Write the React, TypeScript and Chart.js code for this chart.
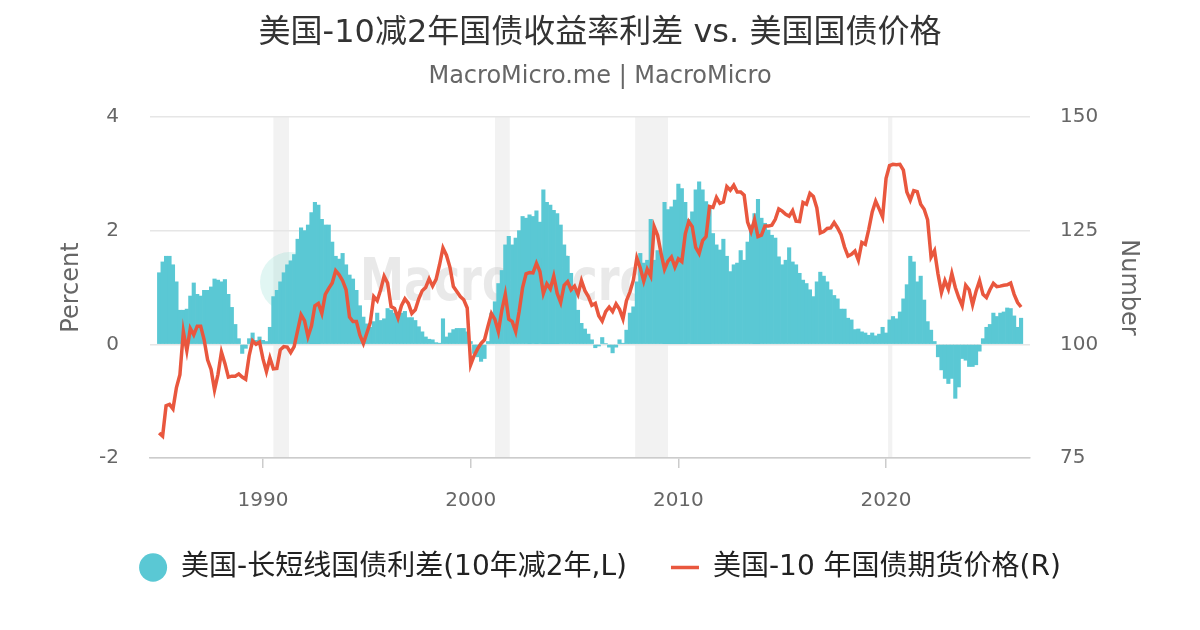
import React, { useEffect, useRef } from 'react';
import { Chart, registerables, Plugin } from 'chart.js';

Chart.register(...registerables);

Chart.defaults.font.family = '"DejaVu Sans", "Noto Sans CJK SC", sans-serif';

const TITLE = '美国-10减2年国债收益率利差 vs. 美国国债价格';
const SUBTITLE = 'MacroMicro.me | MacroMicro';
const SPREAD_LABEL = '美国-长短线国债利差(10年减2年,L)';
const PRICE_LABEL = '美国-10 年国债期货价格(R)';

// samples every two months starting Jan 1985
const START_YEAR = 1985;
const STEP = 1 / 6;

const X_MIN = 1984.56;
const X_MAX = 2026.93;
const yearTicks = [1990, 2000, 2010, 2020];

// US recessions (start, end) in decimal years
const recessions: [number, number][] = [
  [1990.5, 1991.25],
  [2001.17, 2001.88],
  [2007.92, 2009.5],
  [2020.1, 2020.3],
];

// 10y - 2y spread, percent
const spread = [
  1.26, 1.45, 1.55, 1.55, 1.4, 1.1, 0.6, 0.6, 0.62, 0.85,
  1.08, 0.88, 0.85, 0.95, 0.95, 1.01, 1.15, 1.13, 1.1, 1.14,
  0.88, 0.65, 0.35, 0.1, -0.16, -0.07, 0.1, 0.2, 0.07, 0.13,
  0.07, 0.05, 0.3, 0.84, 0.95, 1.1, 1.26, 1.4, 1.47, 1.58,
  1.85, 2.05, 2.0, 2.1, 2.32, 2.5, 2.45, 2.2, 2.1, 2.1,
  1.8, 1.55, 1.5, 1.6, 1.4, 1.22, 1.15, 0.95, 0.68, 0.48,
  0.36, 0.3, 0.4, 0.55, 0.42, 0.45, 0.63, 0.6, 0.55, 0.47,
  0.55, 0.58, 0.47, 0.47, 0.42, 0.31, 0.22, 0.13, 0.09, 0.08,
  0.03, 0.02, 0.45, 0.13, 0.2, 0.26, 0.28, 0.28, 0.28, 0.22,
  0.05, -0.16, -0.22, -0.3, -0.25, 0.05, 0.55, 0.75, 1.07, 1.3,
  1.75, 1.9, 1.75, 1.87, 2.0, 2.25, 2.22, 2.28, 2.25, 2.35,
  2.15, 2.72, 2.5, 2.45, 2.36, 2.3, 2.1, 1.75, 1.55, 1.25,
  0.95, 0.6, 0.37, 0.27, 0.18, 0.08, -0.06, -0.03, 0.12, 0.01,
  -0.05, -0.15, -0.05, 0.08, 0.02, 0.25, 0.55, 0.66, 1.1, 1.6,
  1.43, 1.48, 2.2, 1.48, 1.65, 1.6, 2.5, 2.37, 2.42, 2.54,
  2.82, 2.74, 2.5, 2.2, 2.33, 2.72, 2.86, 2.72, 2.51, 2.4,
  1.95, 1.75, 1.66, 1.85, 1.55, 1.28, 1.4, 1.43, 1.65, 1.48,
  1.8, 2.1, 2.3, 2.55, 2.22, 2.13, 2.01, 1.92, 1.87, 1.54,
  1.4, 1.48, 1.7, 1.45, 1.4, 1.25, 1.13, 1.07, 0.96, 0.84,
  1.1, 1.27, 1.2, 1.1, 0.96, 0.86, 0.8, 0.62, 0.62, 0.46,
  0.43, 0.26, 0.27, 0.22, 0.2, 0.16, 0.2, 0.15, 0.18, 0.3,
  0.2, 0.43, 0.49, 0.45, 0.57, 0.8, 1.05, 1.55, 1.45, 1.1,
  1.2, 0.78, 0.4, 0.25, 0.05, -0.22, -0.45, -0.6, -0.69, -0.6,
  -0.95, -0.75, -0.25, -0.28, -0.39, -0.39, -0.36, -0.12, 0.1, 0.3,
  0.35, 0.55, 0.49, 0.55, 0.57, 0.64, 0.63, 0.5, 0.3, 0.46,
];

// 10y treasury note futures price
const bondPrice = [
  80.5, 79.8, 86.5, 86.8, 85.8, 90.5, 93.3, 102.8, 98.6, 103.5,
  102.1, 104.0, 104.0, 101.0, 96.6, 94.5, 90.0, 93.4, 98.3, 95.8,
  92.8, 93.0, 93.0, 93.5, 92.8, 92.3, 97.5, 100.8, 100.0, 100.5,
  96.8, 94.0, 97.0, 94.6, 94.7, 98.8, 99.5, 99.4, 98.2, 99.5,
  103.0, 106.5, 105.2, 101.7, 104.0, 108.5, 109.0, 106.8, 111.0, 112.3,
  113.5, 116.2, 115.3, 114.0, 112.0, 106.0, 105.0, 105.0, 102.0, 100.2,
  102.5, 104.8, 110.5, 109.6, 112.0, 115.0, 113.5, 108.3, 107.9, 105.8,
  108.5, 110.0, 109.0, 106.8, 107.6, 110.0, 111.8, 112.5, 114.4, 112.8,
  114.3, 117.5, 121.2, 119.6, 117.0, 112.7, 111.6, 110.5, 109.8, 108.0,
  95.5, 97.5, 99.0, 100.2, 101.0, 104.0, 106.8, 105.5, 102.8, 107.5,
  111.0, 105.5, 105.0, 102.8, 107.2, 112.5, 115.5, 115.8, 115.7, 117.8,
  116.0, 111.2, 113.3, 112.2, 115.0, 111.2, 109.2, 113.0, 113.8, 112.0,
  112.8, 111.0, 114.0, 111.8, 110.5, 108.6, 109.0, 106.3, 105.1, 107.2,
  108.2, 107.2, 108.9, 107.7, 105.6, 109.6, 111.5, 114.1, 119.0, 116.8,
  113.9, 116.5, 115.0, 125.9, 124.0, 120.0, 116.5, 118.3, 119.2, 117.0,
  118.8, 118.2, 124.3, 127.0, 125.9, 121.3, 120.0, 122.8, 123.7, 130.3,
  130.1, 132.3, 131.0, 131.3, 134.7, 133.9, 135.0, 133.5, 133.5, 132.8,
  126.9, 124.8, 127.4, 123.7, 124.0, 126.0, 126.0, 126.2, 127.5, 129.8,
  129.3, 128.6, 128.2, 129.4, 127.1, 127.0, 131.2, 130.8, 133.2, 132.5,
  130.0, 124.5, 124.8, 125.5, 125.6, 126.8, 125.6, 124.1, 121.4, 119.4,
  119.8, 120.5, 118.5, 122.4, 122.0, 125.3, 129.1, 131.5, 129.8, 128.0,
  136.5, 139.3, 139.6, 139.5, 139.6, 138.3, 133.5, 131.7, 133.8, 133.6,
  130.8, 129.7, 127.4, 119.2, 120.6, 115.5, 111.4, 114.0, 112.1, 115.6,
  112.5, 110.3, 108.5, 113.0, 112.0, 108.7, 111.7, 114.0, 111.0, 110.3,
  112.0, 113.4, 112.7, 112.8, 113.0, 113.1, 113.5, 111.0, 109.2, 108.2,
];

const toPoints = (values: number[]) =>
  values.map((y, i) => ({ x: START_YEAR + i * STEP, y }));

const TEAL = '#5ac8d4';
const RED = '#e9573e';
const GREY = '#666666';

const backdrop: Plugin = {
  id: 'backdrop',
  beforeDraw(chart) {
    const { ctx, chartArea, scales } = chart;
    const x = scales.x;
    ctx.save();
    ctx.fillStyle = '#f2f2f2';
    recessions.forEach(([a, b]) => {
      const x0 = x.getPixelForValue(a);
      const x1 = x.getPixelForValue(b);
      ctx.fillRect(x0, chartArea.top, x1 - x0, chartArea.bottom - chartArea.top);
    });
    ctx.restore();
  },
  beforeDatasetsDraw(chart) {
    const { ctx, chartArea } = chart;
    const cx = chartArea.left + 140;
    const cy = chartArea.top + 165;
    ctx.save();
    ctx.fillStyle = 'rgba(120, 215, 200, 0.22)';
    ctx.beginPath();
    ctx.arc(cx, cy, 30, 0, Math.PI * 2);
    ctx.fill();
    ctx.fillStyle = 'rgba(200, 200, 200, 0.4)';
    ctx.font = 'bold 58px "DejaVu Sans"';
    ctx.textBaseline = 'middle';
    ctx.fillText('MacroMicro', cx + 70, cy + 3, 290);
    ctx.restore();
  },
};

export default function App() {
  const canvasRef = useRef<HTMLCanvasElement | null>(null);

  useEffect(() => {
    if (!canvasRef.current) return;

    const chart = new Chart(canvasRef.current, {
      type: 'bar',
      data: {
        datasets: [
          {
            type: 'bar',
            label: SPREAD_LABEL,
            data: toPoints(spread),
            yAxisID: 'y',
            backgroundColor: TEAL,
            borderWidth: 0,
            barPercentage: 1,
            categoryPercentage: 1,
            pointStyle: 'circle',
            order: 1,
          },
          {
            type: 'line',
            label: PRICE_LABEL,
            data: toPoints(bondPrice),
            yAxisID: 'y1',
            borderColor: RED,
            backgroundColor: RED,
            borderWidth: 3.5,
            pointRadius: 0,
            pointStyle: 'line',
            tension: 0,
            order: 0,
          },
        ],
      },
      options: {
        animation: false,
        responsive: true,
        maintainAspectRatio: false,
        layout: { padding: { left: 50, right: 50, top: 0, bottom: 38.5 } },
        plugins: {
          title: {
            display: true,
            text: TITLE,
            color: '#333333',
            font: { size: 32, weight: 'normal' },
            padding: { top: 14, bottom: 10 },
          },
          subtitle: {
            display: true,
            text: SUBTITLE,
            color: GREY,
            font: { size: 24 },
            padding: { top: 0, bottom: 25.8 },
          },
          legend: {
            position: 'bottom',
            labels: {
              usePointStyle: true,
              pointStyleWidth: 28,
              boxHeight: 20,
              padding: 44,
              color: '#222222',
              font: { size: 28 },
              sort: (a, b) => (a.datasetIndex ?? 0) - (b.datasetIndex ?? 0),
            },
          },
          tooltip: { enabled: false },
        },
        scales: {
          x: {
            type: 'linear',
            min: X_MIN,
            max: X_MAX,
            offset: false,
            afterBuildTicks: (scale) => {
              scale.ticks = yearTicks.map((value) => ({ value }));
            },
            afterFit: (scale) => {
              scale.height = 51.5;
            },
            grid: { drawOnChartArea: false, tickLength: 10, color: '#cccccc', lineWidth: 1.5, offset: false },
            border: { color: '#cccccc', width: 1.5 },
            ticks: {
              color: GREY,
              font: { size: 20 },
              padding: 21,
              maxRotation: 0,
              callback: (v) => String(v),
            },
          },
          y: {
            position: 'left',
            min: -2,
            max: 4,
            afterFit: (scale) => {
              scale.width = 100;
            },
            ticks: { stepSize: 2, color: GREY, font: { size: 20 }, padding: 31 },
            grid: { color: '#e6e6e6', lineWidth: 1.5, drawTicks: false },
            border: { display: false },
            title: {
              display: true,
              text: 'Percent',
              color: GREY,
              font: { size: 24 },
              padding: { top: 7, bottom: 0 },
            },
          },
          y1: {
            position: 'right',
            min: 75,
            max: 150,
            afterFit: (scale) => {
              scale.width = 120;
            },
            ticks: { stepSize: 25, color: GREY, font: { size: 20 }, padding: 30 },
            grid: { drawOnChartArea: false, drawTicks: false },
            border: { display: false },
            title: {
              display: true,
              text: 'Number',
              color: GREY,
              font: { size: 24 },
              padding: { top: 7.6, bottom: 0 },
            },
          },
        },
      },
      plugins: [backdrop],
    });

    return () => {
      chart.destroy();
    };
  }, []);

  return (
    <div style={{ position: 'absolute', left: 0, top: 0, width: 1200, height: 630, background: '#ffffff' }}>
      <canvas ref={canvasRef} />
    </div>
  );
}
